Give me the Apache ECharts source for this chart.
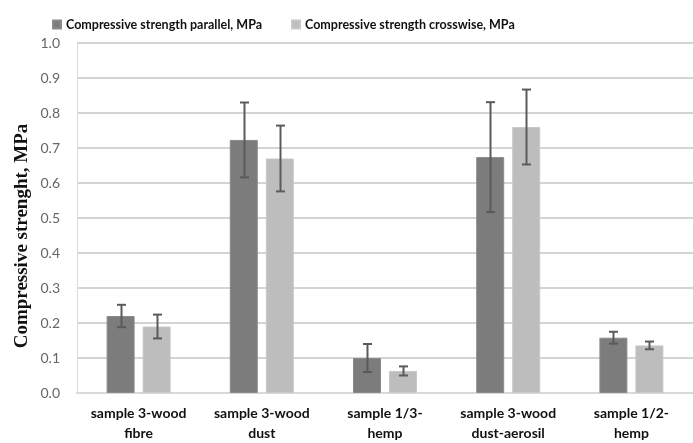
<!DOCTYPE html>
<html>
<head>
<meta charset="utf-8">
<script src="https://cdn.jsdelivr.net/npm/echarts@6/dist/echarts.min.js"></script>
<style>
  html, body { margin: 0; padding: 0; background: #fff; }
  #chart { width: 693px; height: 443px; }
</style>
</head>
<body>
<div id="chart"></div>
<script>
// Sample names (x categories)
const categories = [
  'sample 3-wood\nfibre',
  'sample 3-wood\ndust',
  'sample 1/3-\nhemp',
  'sample 3-wood\ndust-aerosil',
  'sample 1/2-\nhemp'
];

// Mean compressive strength, MPa
const parallelValues  = [0.220, 0.723, 0.100, 0.674, 0.158];
const crosswiseValues = [0.190, 0.670, 0.063, 0.760, 0.136];

// Standard deviation for each mean, MPa
const parallelErrors  = [0.032, 0.107, 0.040, 0.157, 0.017];
const crosswiseErrors = [0.034, 0.094, 0.013, 0.107, 0.011];

const seriesNames = [
  'Compressive strength parallel, MPa',
  'Compressive strength crosswise, MPa'
];

const yTicks = { min: 0, max: 1, interval: 0.1 };

// Bar layout constants
const BAR_W = 28;
const BAR_GAP = 8;
const HALF_STEP = (BAR_W + BAR_GAP) / 2;

function errorSeries(values, errors, offset) {
  return {
    type: 'custom',
    silent: true,
    z: 10,
    data: values.map((v, i) => [i, v - errors[i], v + errors[i]]),
    renderItem: function (params, api) {
      const lo = api.coord([api.value(0), api.value(1)]);
      const hi = api.coord([api.value(0), api.value(2)]);
      const x = Math.round(lo[0] + offset) + 0.5;
      const cap = 4.5;
      const style = { stroke: '#5a5a5a', lineWidth: 2 };
      return {
        type: 'group',
        children: [
          { type: 'line', shape: { x1: x, y1: hi[1], x2: x, y2: lo[1] }, style: style },
          { type: 'line', shape: { x1: x - cap, y1: hi[1], x2: x + cap, y2: hi[1] }, style: style },
          { type: 'line', shape: { x1: x - cap, y1: lo[1], x2: x + cap, y2: lo[1] }, style: style }
        ]
      };
    }
  };
}

const chart = echarts.init(document.getElementById('chart'), null, { renderer: 'canvas' });

chart.setOption({
  animation: false,
  backgroundColor: '#ffffff',
  legend: {
    data: seriesNames,
    left: 47,
    top: 13,
    icon: 'rect',
    itemWidth: 8,
    itemHeight: 8,
    itemGap: 29,
    textStyle: { fontFamily: 'Lato', fontWeight: 'bold', fontSize: 12.5, color: '#111' }
  },
  grid: { left: 77, right: -11, top: 43, bottom: 46, containLabel: false },
  xAxis: {
    type: 'category',
    data: categories,
    axisLine: { show: true, lineStyle: { color: '#d9d9d9', width: 2 } },
    axisTick: { show: false },
    axisLabel: {
      interval: 0,
      margin: 10,
      lineHeight: 20,
      fontFamily: 'Lato',
      fontWeight: 'bold',
      fontSize: 14,
      color: '#111'
    }
  },
  yAxis: {
    type: 'value',
    min: yTicks.min,
    max: yTicks.max,
    interval: yTicks.interval,
    axisLine: { show: true, lineStyle: { color: '#d9d9d9', width: 1 } },
    axisTick: { show: false },
    splitLine: { lineStyle: { color: '#d4d4d4', width: 2 } },
    axisLabel: {
      margin: 17,
      fontFamily: 'Lato',
      fontSize: 14,
      color: '#666',
      formatter: v => v.toFixed(1)
    }
  },
  graphic: [{
    type: 'text',
    rotation: Math.PI / 2,
    x: 22,
    y: 236,
    style: {
      text: 'Compressive strenght, MPa',
      font: 'bold 19px "Liberation Serif"',
      fill: '#111',
      textAlign: 'center',
      textVerticalAlign: 'middle'
    }
  }],
  series: [
    {
      name: seriesNames[0],
      type: 'bar',
      data: parallelValues,
      barWidth: BAR_W,
      barGap: (BAR_GAP / BAR_W * 100).toFixed(1) + '%',
      itemStyle: { color: '#7c7c7c', borderColor: '#8a8a8a', borderWidth: 1 }
    },
    {
      name: seriesNames[1],
      type: 'bar',
      data: crosswiseValues,
      barWidth: BAR_W,
      itemStyle: { color: '#bdbdbd', borderColor: '#c8c8c8', borderWidth: 1 }
    },
    errorSeries(parallelValues, parallelErrors, -HALF_STEP),
    errorSeries(crosswiseValues, crosswiseErrors, HALF_STEP)
  ]
});
</script>
</body>
</html>
